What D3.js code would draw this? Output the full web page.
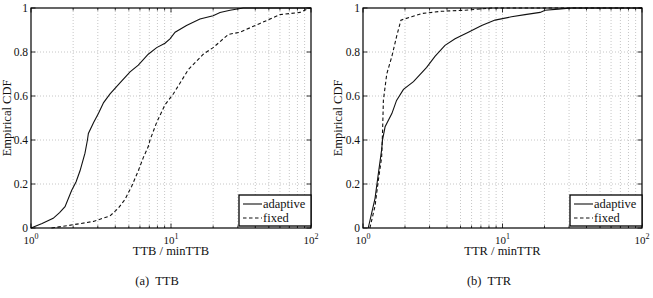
<!DOCTYPE html>
<html>
<head>
<meta charset="utf-8">
<script src="https://cdn.jsdelivr.net/npm/d3@7"></script>
<style>
  body { margin: 0; background: #fff; }
</style>
</head>
<body>
<svg id="chart" width="653" height="298"></svg>
<script>
// ---- data: [ratio, CDF] ----
const ttbAdaptive = [[1.0,0],[1.2,0.02],[1.44,0.044],[1.6,0.07],[1.75,0.097],[1.95,0.17],[2.1,0.21],[2.24,0.26],[2.43,0.34],[2.53,0.4],[2.57,0.43],[2.8,0.48],[3.03,0.52],[3.3,0.57],[3.67,0.61],[4.32,0.66],[5.1,0.71],[5.84,0.74],[6.88,0.79],[7.9,0.82],[9.06,0.84],[9.83,0.86],[10.7,0.89],[12.9,0.92],[16.1,0.95],[20,0.965],[22.4,0.98],[26.4,0.99],[32.8,1],[100,1]];
const ttbFixed = [[1.4,0],[1.8,0.01],[2.79,0.03],[3.67,0.055],[4.2,0.09],[4.69,0.13],[5.24,0.19],[5.84,0.26],[6.34,0.32],[6.88,0.37],[7.08,0.4],[7.9,0.48],[9.06,0.56],[10.4,0.61],[13.3,0.72],[17,0.79],[20,0.82],[25.7,0.88],[31.1,0.89],[43.2,0.93],[60.1,0.97],[83.5,0.98],[98,1]];
const ttrAdaptive = [[1.09,0],[1.22,0.135],[1.29,0.25],[1.36,0.355],[1.38,0.4],[1.44,0.46],[1.61,0.52],[1.74,0.58],[1.95,0.63],[2.3,0.665],[2.86,0.73],[3.28,0.78],[3.87,0.83],[4.57,0.86],[5.69,0.89],[7.09,0.92],[8.84,0.945],[11.6,0.96],[14.5,0.97],[18.6,0.98],[20.2,0.99],[25.1,0.995],[31.3,1],[100,1]];
const ttrFixed = [[1.12,0],[1.22,0.1],[1.29,0.22],[1.36,0.32],[1.38,0.43],[1.4,0.58],[1.48,0.7],[1.61,0.78],[1.74,0.87],[1.87,0.945],[2.23,0.96],[2.64,0.975],[3.66,0.985],[5.39,0.99],[8.4,1],[100,1]];

const yTicks = [0, 0.2, 0.4, 0.6, 0.8, 1];
const yTickLabels = ["0", "0.2", "0.4", "0.6", "0.8", "1"];
const xMajor = [1, 10, 100];
const xMajorExp = ["0", "1", "2"];
const legendNames = ["adaptive", "fixed"];

const panels = [
  { left: 31, right: 311, series: [ttbAdaptive, ttbFixed], xLabel: "TTB / minTTB", caption: "(a)  TTB", capX: 157, yLabX: 11 },
  { left: 363, right: 642, series: [ttrAdaptive, ttrFixed], xLabel: "TTR / minTTR", caption: "(b)  TTR", capX: 489, yLabX: 342 }
];

const plotTop = 8, plotBottom = 228;
const svg = d3.select("#chart")
  .attr("font-family", "'Liberation Serif', 'Times New Roman', Times, 'DejaVu Serif', serif")
  .attr("fill", "#111");

// minor log ticks 2..9, 20..90
const xMinor = [];
for (let d = 1; d <= 10; d *= 10) for (let k = 2; k <= 9; k++) xMinor.push(k * d);

panels.forEach(p => {
  const x = d3.scaleLog().domain([1, 100]).range([p.left, p.right]);
  const y = d3.scaleLinear().domain([0, 1]).range([plotBottom, plotTop]);
  const g = svg.append("g");

  // grid (dotted)
  const grid = g.append("g").attr("stroke", "#b8b8b8").attr("stroke-width", 0.8).attr("stroke-dasharray", "1,2");
  grid.selectAll(".gx").data(xMinor.concat([10])).join("line")
    .attr("x1", d => x(d)).attr("x2", d => x(d)).attr("y1", plotTop).attr("y2", plotBottom);
  grid.selectAll(".gy").data(yTicks.slice(1, -1)).join("line")
    .attr("x1", p.left).attr("x2", p.right).attr("y1", d => y(d)).attr("y2", d => y(d));

  // inward ticks on all sides
  const tk = g.append("g").attr("stroke", "#000").attr("stroke-width", 0.8);
  xMinor.forEach(v => {
    tk.append("line").attr("x1", x(v)).attr("x2", x(v)).attr("y1", plotBottom).attr("y2", plotBottom - 2.5);
    tk.append("line").attr("x1", x(v)).attr("x2", x(v)).attr("y1", plotTop).attr("y2", plotTop + 2.5);
  });
  xMajor.forEach(v => {
    tk.append("line").attr("x1", x(v)).attr("x2", x(v)).attr("y1", plotBottom).attr("y2", plotBottom - 4.5);
    tk.append("line").attr("x1", x(v)).attr("x2", x(v)).attr("y1", plotTop).attr("y2", plotTop + 4.5);
  });
  yTicks.forEach(v => {
    tk.append("line").attr("x1", p.left).attr("x2", p.left + 4.5).attr("y1", y(v)).attr("y2", y(v));
    tk.append("line").attr("x1", p.right).attr("x2", p.right - 4.5).attr("y1", y(v)).attr("y2", y(v));
  });

  // curves
  const line = d3.line().x(d => x(d[0])).y(d => y(d[1]));
  g.append("path").datum(p.series[0]).attr("d", line)
    .attr("fill", "none").attr("stroke", "#111").attr("stroke-width", 1.1);
  g.append("path").datum(p.series[1]).attr("d", line)
    .attr("fill", "none").attr("stroke", "#111").attr("stroke-width", 1.1).attr("stroke-dasharray", "3.5,2.5");

  // frame
  g.append("rect").attr("x", p.left).attr("y", plotTop).attr("width", p.right - p.left).attr("height", plotBottom - plotTop)
    .attr("fill", "none").attr("stroke", "#000").attr("stroke-width", 1.2);

  // y tick labels
  g.selectAll(".yl").data(yTicks).join("text")
    .attr("x", p.left - 3).attr("y", d => y(d) + 3.5)
    .attr("text-anchor", "end").attr("font-size", 11.5)
    .text((d, i) => yTickLabels[i]);

  // x tick labels 10^n
  xMajor.forEach((v, i) => {
    const t = g.append("text").attr("x", x(v)).attr("y", 243.5).attr("text-anchor", "middle").attr("font-size", 11);
    t.append("tspan").text("10");
    t.append("tspan").attr("dy", -5).attr("font-size", 8).text(xMajorExp[i]);
  });

  // axis labels
  g.append("text").attr("x", (p.left + p.right) / 2).attr("y", 255).attr("text-anchor", "middle")
    .attr("font-size", 12.5).text(p.xLabel);
  g.append("text").attr("transform", `translate(${p.yLabX},${(plotTop + plotBottom) / 2}) rotate(-90)`)
    .attr("text-anchor", "middle").attr("font-size", 12.5).text("Empirical CDF");

  // caption
  g.append("text").attr("x", p.capX).attr("y", 285).attr("text-anchor", "middle")
    .attr("font-size", 12.5).style("white-space", "pre").text(p.caption);

  // legend
  const lg = g.append("g");
  const lx = p.right - 72, ly = plotBottom - 33;
  lg.append("rect").attr("x", lx).attr("y", ly).attr("width", 72).attr("height", 31)
    .attr("fill", "#fff").attr("stroke", "#000").attr("stroke-width", 1.3);
  legendNames.forEach((name, i) => {
    const yy = ly + 9 + i * 14;
    lg.append("line").attr("x1", lx + 4).attr("x2", lx + 23).attr("y1", yy).attr("y2", yy)
      .attr("stroke", "#111").attr("stroke-width", 1.1).attr("stroke-dasharray", i ? "3.5,2.5" : null);
    lg.append("text").attr("x", lx + 24).attr("y", yy + 4).attr("font-size", 12.5).text(name);
  });
});
</script>
</body>
</html>
